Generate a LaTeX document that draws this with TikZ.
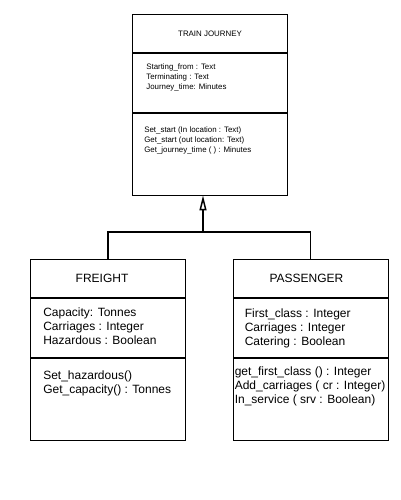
\documentclass[tikz,border=0pt]{standalone}
\usepackage{fontspec}
\setmainfont{Liberation Sans}
\usetikzlibrary{arrows.meta,positioning}
\begin{document}
\begin{tikzpicture}[x=1pt,y=-1pt]
  \tikzstyle{every node}=[inner sep=0pt]
  \tikzstyle{part}=[draw, rectangle, anchor=north, minimum width=155pt, line width=0.8pt]
  \tikzstyle{namepart}=[part, minimum height=38pt]
  \tikzstyle{attrpart}=[part, minimum height=59pt]
  \tikzstyle{methpart}=[part, minimum height=82pt]
  \tikzstyle{small}=[font=\fontsize{7.9}{10}\selectfont, align=left, anchor=north west]
  \tikzstyle{big}=[font=\fontsize{12}{14}\selectfont, align=left, anchor=north west]
  \tikzstyle{link}=[line width=1.5pt]
  \useasboundingbox (0,0) rectangle (400,500);

  % train journey
  \node[namepart, font=\fontsize{7.9}{10}\selectfont] (JourneyName) at (210,14) {TRAIN JOURNEY};
  \node[attrpart, below=0pt of JourneyName] (JourneyAttr) {};
  \node[methpart, below=0pt of JourneyAttr] (JourneyMeth) {};
  \node[small] (JourneyAttrText) at ([xshift=14pt,yshift=-11pt]JourneyAttr.north west)
    {Starting\_from : Text\\Terminating : Text\\Journey\_time: Minutes};
  \node[small] (JourneyMethText) at ([xshift=12pt,yshift=-14pt]JourneyMeth.north west)
    {Set\_start (In location : Text)\\Get\_start (out location: Text)\\Get\_journey\_time ( ) : Minutes};

  % freight
  \node[namepart, font=\fontsize{12}{14}\selectfont] (FreightName) at (108,259) {\hspace*{-12pt}FREIGHT};
  \node[attrpart, below=0pt of FreightName] (FreightAttr) {};
  \node[methpart, below=0pt of FreightAttr] (FreightMeth) {};
  \node[big] (FreightAttrText) at ([xshift=13pt,yshift=-10pt]FreightAttr.north west)
    {Capacity: Tonnes\\Carriages : Integer\\Hazardous : Boolean};
  \node[big] (FreightMethText) at ([xshift=13pt,yshift=-13pt]FreightMeth.north west)
    {Set\_hazardous()\\Get\_capacity() : Tonnes};

  % passenger
  \node[namepart, font=\fontsize{12}{14}\selectfont] (PassengerName) at (310.5,259) {\hspace*{-8pt}PASSENGER};
  \node[attrpart, below=0pt of PassengerName] (PassengerAttr) {};
  \node[methpart, below=0pt of PassengerAttr] (PassengerMeth) {};
  \node[big] (PassengerAttrText) at ([xshift=12pt,yshift=-11pt]PassengerAttr.north west)
    {First\_class : Integer\\Carriages : Integer\\Catering : Boolean};
  \node[big] (PassengerMethText) at ([xshift=2pt,yshift=-9pt]PassengerMeth.north west)
    {get\_first\_class () : Integer\\Add\_carriages ( cr : Integer)\\In\_service ( srv : Boolean)};

  % generalisation
  \coordinate (Join) at (203,232);
  \draw[link] (FreightName.north) |- (Join) -| (PassengerName.north);
  \draw[link, -{Triangle[open, length=15pt, width=7pt]}] (Join) -- (Join |- JourneyMeth.south);
\end{tikzpicture}
\end{document}
